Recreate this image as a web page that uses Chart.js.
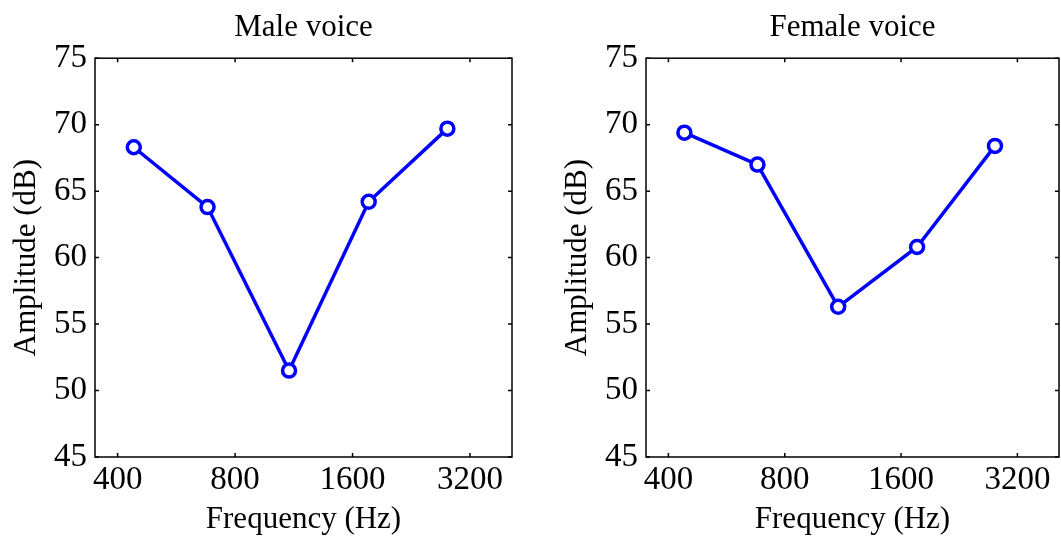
<!DOCTYPE html>
<html><head><meta charset="utf-8">
<script src="https://cdn.jsdelivr.net/npm/chart.js@4.4.0/dist/chart.umd.min.js"></script>
<style>
html,body{margin:0;padding:0;background:#fff;}
#wrap{position:relative;width:1061px;height:538px;overflow:hidden;background:#fff;}
.box{position:absolute;top:0;height:538px;}
</style></head><body>
<div id="wrap">
<div class="box" style="left:0;width:540px"><canvas id="c1"></canvas></div>
<div class="box" style="left:551px;width:518px"><canvas id="c2"></canvas></div>
</div>
<script>
const frequencies = [440, 680, 1100, 1760, 2800];
const maleAmplitude = [68.3, 63.8, 51.5, 64.2, 69.7];
const femaleAmplitude = [69.4, 67.0, 56.3, 60.8, 68.4];
const xTickValues = [400, 800, 1600, 3200];
const yTickValues = [45, 50, 55, 60, 65, 70, 75];
const chartTitles = ['Male voice', 'Female voice'];
const xAxisTitle = 'Frequency (Hz)';
const yAxisTitle = 'Amplitude (dB)';

const FAMILY = '"Liberation Serif", "Times New Roman", serif';
const fnt = (s) => ({family: FAMILY, size: s, weight: 'normal'});

const matlabBox = {
  id: 'matlabBox',
  afterDraw(chart) {
    const {ctx, chartArea: a, scales: {x, y}} = chart;
    ctx.save();
    ctx.strokeStyle = '#000';
    ctx.lineWidth = 1.5;
    ctx.strokeRect(a.left, a.top, a.right - a.left, a.bottom - a.top);
    const L = 4;
    ctx.beginPath();
    x.ticks.forEach(t => {
      const px = x.getPixelForValue(t.value);
      ctx.moveTo(px, a.bottom); ctx.lineTo(px, a.bottom - L);
      ctx.moveTo(px, a.top); ctx.lineTo(px, a.top + L);
    });
    y.ticks.forEach(t => {
      const py = y.getPixelForValue(t.value);
      ctx.moveTo(a.left, py); ctx.lineTo(a.left + L, py);
      ctx.moveTo(a.right, py); ctx.lineTo(a.right - L, py);
    });
    ctx.stroke();
    ctx.restore();
  }
};

function makeChart(id, title, values, rightPad) {
  return new Chart(document.getElementById(id), {
    type: 'scatter',
    data: {
      datasets: [{
        data: frequencies.map((f, i) => ({x: f, y: values[i]})),
        showLine: true,
        borderColor: '#0000ff',
        borderWidth: 3.5,
        pointRadius: 6.5,
        pointBorderWidth: 3.5,
        pointBorderColor: '#0000ff',
        pointBackgroundColor: '#ffffff',
        pointHoverRadius: 6.5
      }]
    },
    options: {
      responsive: true,
      maintainAspectRatio: false,
      animation: false,
      events: [],
      layout: {padding: {left: 0, right: rightPad, top: 0, bottom: 0}},
      plugins: {
        legend: {display: false},
        tooltip: {enabled: false},
        title: {display: true, fullSize: false, text: title, color: '#000', font: fnt(31), padding: {top: 9, bottom: 12}}
      },
      scales: {
        x: {
          type: 'logarithmic',
          min: 350, max: 4100,
          afterBuildTicks: s => { s.ticks = xTickValues.map(v => ({value: v})); },
          afterFit: s => { s.height = 81; s.paddingLeft = 0; s.paddingRight = 0; },
          ticks: {callback: v => String(v), color: '#000', font: fnt(33), padding: 4, autoSkip: false, maxRotation: 0},
          grid: {display: false, drawTicks: false},
          border: {display: false},
          title: {display: true, text: xAxisTitle, color: '#000', font: fnt(31), padding: {top: 0, bottom: 0}}
        },
        y: {
          min: 45, max: 75,
          afterBuildTicks: s => { s.ticks = yTickValues.map(v => ({value: v})); },
          afterFit: s => { s.width = 95; s.paddingTop = 0; s.paddingBottom = 0; },
          ticks: {color: '#000', font: fnt(33), padding: 8},
          grid: {display: false, drawTicks: false},
          border: {display: false},
          title: {display: true, text: yAxisTitle, color: '#000', font: fnt(31), padding: {top: 8, bottom: 0}}
        }
      }
    },
    plugins: [matlabBox]
  });
}

makeChart('c1', chartTitles[0], maleAmplitude, 28);
makeChart('c2', chartTitles[1], femaleAmplitude, 2);
</script>
</body></html>
